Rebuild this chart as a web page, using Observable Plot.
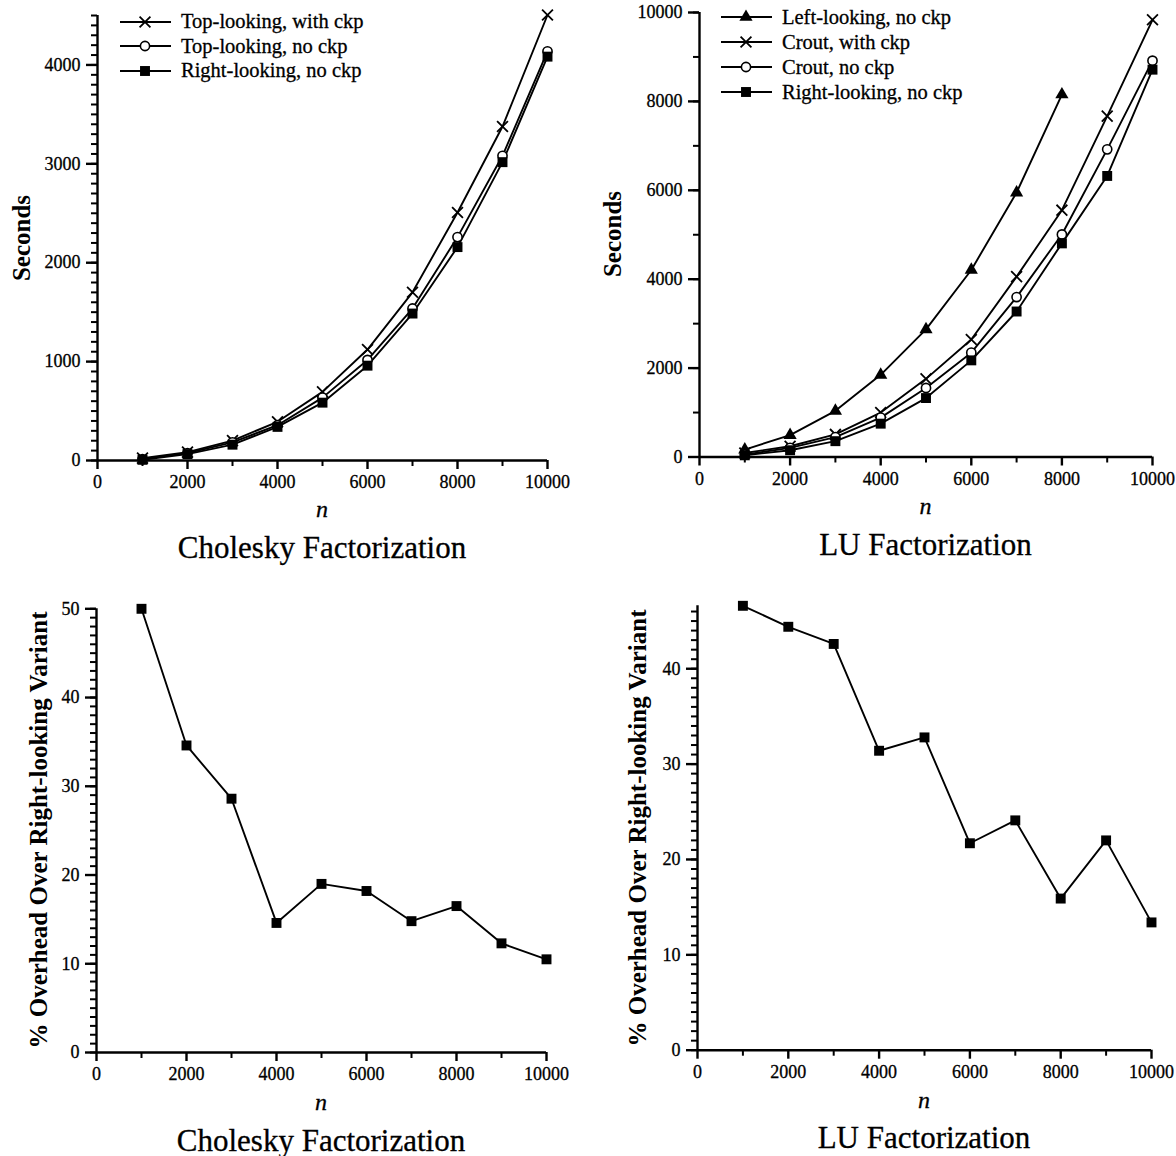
<!DOCTYPE html>
<html><head><meta charset="utf-8">
<script src="https://cdn.jsdelivr.net/npm/d3@7"></script>
<script src="https://cdn.jsdelivr.net/npm/@observablehq/plot@0.6"></script>
<style>
body{margin:0;background:#fff;}
#root{position:relative;width:1176px;height:1156px;font-family:"Liberation Serif","Times New Roman",serif;color:#000;overflow:hidden;}
.panel{position:absolute;}
.panel svg{overflow:visible;}
.panel svg text{stroke:#000;stroke-width:0.3px;}
.title{position:absolute;font-size:31px;line-height:1;transform:translate(-50%,-50%);white-space:nowrap;-webkit-text-stroke:0.3px #000;}
.nlab{position:absolute;font-size:24px;line-height:1;font-style:italic;transform:translate(-50%,-50%);-webkit-text-stroke:0.3px #000;}
.ylab{position:absolute;font-size:25px;line-height:1;font-weight:bold;transform:translate(-50%,-50%) rotate(-90deg);white-space:nowrap;}
.lrow{position:absolute;display:flex;align-items:center;height:24px;font-size:20.5px;white-space:nowrap;-webkit-text-stroke:0.3px #000;}
.lrow svg{margin-right:9px;}
</style></head><body><div id="root"></div>
<script>
// ---------- data ----------
const nValues = [1000, 2000, 3000, 4000, 5000, 6000, 7000, 8000, 9000, 10000];

// Cholesky factorization, seconds
const cholTopWithCkp  = [24, 85, 201, 391, 694, 1122, 1701, 2508, 3377, 4505];
const cholTopNoCkp    = [14, 75, 184, 357, 636, 1017, 1537, 2259, 3081, 4138];
const cholRightNoCkp  = [7, 65, 160, 340, 585, 959, 1486, 2158, 3017, 4084];

// LU factorization, seconds (left-looking only up to n = 8000)
const luLeftNoCkp     = [167, 492, 1038, 1848, 2871, 4208, 5949, 8154];
const luCroutWithCkp  = [91, 242, 508, 1000, 1758, 2644, 4058, 5553, 7668, 9836];
const luCroutNoCkp    = [53, 205, 447, 886, 1553, 2348, 3598, 5007, 6921, 8916];
const luRightNoCkp    = [38, 152, 356, 750, 1326, 2174, 3273, 4806, 6323, 8714];

// % overhead over right-looking variant
const cholOverhead = [50.0, 34.6, 28.6, 14.6, 19.0, 18.2, 14.8, 16.5, 12.3, 10.5];
const luOverhead   = [46.6, 44.4, 42.6, 31.4, 32.8, 21.7, 24.1, 15.9, 22.0, 13.4];

// ticks
const xMajorTicks = [0, 2000, 4000, 6000, 8000, 10000];
const xMinorTicks = [1000, 3000, 5000, 7000, 9000];
const cholSecTicks = [0, 1000, 2000, 3000, 4000];
const luSecTicks = [0, 2000, 4000, 6000, 8000, 10000];
const cholPctTicks = [0, 10, 20, 30, 40, 50];
const luPctTicks = [0, 10, 20, 30, 40];

// labels
const cholLegend = ["Top-looking, with ckp", "Top-looking, no ckp", "Right-looking, no ckp"];
const luLegend = ["Left-looking, no ckp", "Crout, with ckp", "Crout, no ckp", "Right-looking, no ckp"];
const titles = ["Cholesky Factorization", "LU Factorization"];
const secLabel = "Seconds";
const pctLabel = "% Overhead Over Right-looking Variant";
const xLabel = "n";

// ---------- styles ----------
const SYM = {
  times:    {symbol: "times", r: 5, fill: "none", stroke: "black", strokeWidth: 1.8},
  circle:   {symbol: "circle", r: 4.6, fill: "white", stroke: "black", strokeWidth: 1.6},
  square:   {symbol: "square", r: 5.6, fill: "black", stroke: "none"},
  triangle: {symbol: "triangle", r: 4.9, fill: "black", stroke: "none"}
};
const Y_MAJOR_LEN = 11, Y_MINOR_LEN = 6, X_MAJOR_LEN = 9, X_MINOR_LEN = 6;

const root = document.getElementById("root");

function rows(values) {
  return values.map((v, i) => ({n: nValues[i], v}));
}

function panel(cfg) {
  const fw = cfg.width - cfg.mL - cfg.mR;
  const fh = cfg.height - cfg.mT - cfg.mB;
  const xPerPx = 10000 / fw;
  const yPerPx = (cfg.yDomain[1] - cfg.yDomain[0]) / fh;
  // axis ticks: short rules reaching outward from the axis lines (pixel length converted to scale units)
  const yTicks = (vals, len, sw) => Plot.ruleY(vals, {y: d => d, x1: () => -len * xPerPx, x2: () => 0, stroke: "black", strokeWidth: sw});
  const xTicks = (vals, len, sw) => Plot.ruleX(vals, {x: d => d, y1: () => -len * yPerPx, y2: () => 0, stroke: "black", strokeWidth: sw});
  const marks = [
    yTicks(cfg.yMinor, Y_MINOR_LEN, 2),
    yTicks(cfg.yMajor, Y_MAJOR_LEN, 2.4),
    xTicks(xMinorTicks, X_MINOR_LEN, 2),
    xTicks(xMajorTicks, X_MAJOR_LEN, 2.4),
    Plot.axisY(cfg.yMajor, {tickSize: 0, tickPadding: 17, label: null, tickFormat: d => String(d)}),
    Plot.axisX(xMajorTicks, {tickSize: 0, tickPadding: 15, label: null, tickFormat: d => String(d)}),
    Plot.ruleX([0], {strokeWidth: 2.4}),
    Plot.ruleY([0], {strokeWidth: 2.4})
  ];
  for (const s of cfg.series) {
    marks.push(Plot.line(rows(s.values), {x: "n", y: "v", stroke: "black", strokeWidth: 1.9}));
  }
  for (const s of cfg.series) {
    marks.push(Plot.dot(rows(s.values), {x: "n", y: "v", ...SYM[s.sym]}));
  }
  const chart = Plot.plot({
    width: cfg.width, height: cfg.height,
    marginLeft: cfg.mL, marginRight: cfg.mR, marginTop: cfg.mT, marginBottom: cfg.mB,
    x: {domain: [0, 10000]},
    y: {domain: cfg.yDomain},
    style: {fontFamily: '"Liberation Serif","Times New Roman",serif', fontSize: "18px", background: "transparent", color: "black", overflow: "visible"},
    marks
  });
  const div = document.createElement("div");
  div.className = "panel";
  div.style.left = cfg.left + "px";
  div.style.top = cfg.top + "px";
  div.appendChild(chart);
  root.appendChild(div);

  const fx0 = cfg.left + cfg.mL, fx1 = cfg.left + cfg.width - cfg.mR;
  const cx = (fx0 + fx1) / 2;
  const fy0 = cfg.top + cfg.mT, fy1 = cfg.top + cfg.height - cfg.mB;

  const t = document.createElement("div");
  t.className = "title"; t.textContent = cfg.title;
  t.style.left = cx + "px"; t.style.top = (fy1 + cfg.titleDy) + "px";
  root.appendChild(t);

  const n = document.createElement("div");
  n.className = "nlab"; n.textContent = xLabel;
  n.style.left = cx + "px"; n.style.top = (fy1 + cfg.nDy) + "px";
  root.appendChild(n);

  const y = document.createElement("div");
  y.className = "ylab"; y.textContent = cfg.yLabel;
  y.style.left = (fx0 - cfg.yLabDx) + "px"; y.style.top = ((fy0 + fy1) / 2) + "px";
  root.appendChild(y);

  if (cfg.legend) {
    cfg.legend.items.forEach((it, i) => {
      const row = document.createElement("div");
      row.className = "lrow";
      row.style.left = cfg.legend.x + "px";
      row.style.top = (cfg.legend.y + i * cfg.legend.dy - 12) + "px";
      const svg = d3.create("svg").attr("width", 52).attr("height", 24);
      svg.append("line").attr("x1", 0).attr("x2", 51).attr("y1", 12).attr("y2", 12)
        .attr("stroke", "black").attr("stroke-width", 1.9);
      const st = SYM[it.sym];
      const type = {times: d3.symbolTimes, circle: d3.symbolCircle, square: d3.symbolSquare, triangle: d3.symbolTriangle}[it.sym];
      svg.append("path").attr("transform", "translate(25,12)")
        .attr("d", d3.symbol(type, Math.PI * st.r * st.r)())
        .attr("fill", st.fill).attr("stroke", st.stroke).attr("stroke-width", st.strokeWidth || 0);
      row.appendChild(svg.node());
      const span = document.createElement("span");
      span.textContent = it.label;
      row.appendChild(span);
      root.appendChild(row);
    });
  }
}

// Top-left: Cholesky seconds
panel({
  left: 0, top: 0, width: 590, height: 510, mL: 97, mR: 43, mT: 15, mB: 50,
  yDomain: [0, 4500], yMajor: cholSecTicks, yMinor: d3.range(0, 4501, 100),
  series: [
    {values: cholTopWithCkp, sym: "times"},
    {values: cholTopNoCkp, sym: "circle"},
    {values: cholRightNoCkp, sym: "square"}
  ],
  title: titles[0], yLabel: secLabel, yLabDx: 76, nDy: 49, titleDy: 87,
  legend: {x: 120, y: 21.5, dy: 24.6, items: [
    {label: cholLegend[0], sym: "times"},
    {label: cholLegend[1], sym: "circle"},
    {label: cholLegend[2], sym: "square"}
  ]}
});

// Top-right: LU seconds
panel({
  left: 590, top: 0, width: 586, height: 510, mL: 109, mR: 24, mT: 12, mB: 53.5,
  yDomain: [0, 10000], yMajor: luSecTicks, yMinor: d3.range(0, 10001, 1000),
  series: [
    {values: luLeftNoCkp, sym: "triangle"},
    {values: luCroutWithCkp, sym: "times"},
    {values: luCroutNoCkp, sym: "circle"},
    {values: luRightNoCkp, sym: "square"}
  ],
  title: titles[1], yLabel: secLabel, yLabDx: 87, nDy: 49, titleDy: 87,
  legend: {x: 721, y: 17.3, dy: 25, items: [
    {label: luLegend[0], sym: "triangle"},
    {label: luLegend[1], sym: "times"},
    {label: luLegend[2], sym: "circle"},
    {label: luLegend[3], sym: "square"}
  ]}
});

// Bottom-left: Cholesky overhead
panel({
  left: 0, top: 590, width: 590, height: 510, mL: 96, mR: 44, mT: 18.3, mB: 48,
  yDomain: [0, 50], yMajor: cholPctTicks, yMinor: d3.range(0, 51, 1),
  series: [{values: cholOverhead, sym: "square"}],
  title: titles[0], yLabel: pctLabel, yLabDx: 58, nDy: 50, titleDy: 88
});

// Bottom-right: LU overhead
panel({
  left: 590, top: 590, width: 586, height: 510, mL: 107, mR: 25, mT: 15.3, mB: 50.3,
  yDomain: [0, 46.6], yMajor: luPctTicks, yMinor: d3.range(0, 47, 1),
  series: [{values: luOverhead, sym: "square"}],
  title: titles[1], yLabel: pctLabel, yLabDx: 60, nDy: 50, titleDy: 87
});
</script></body></html>
